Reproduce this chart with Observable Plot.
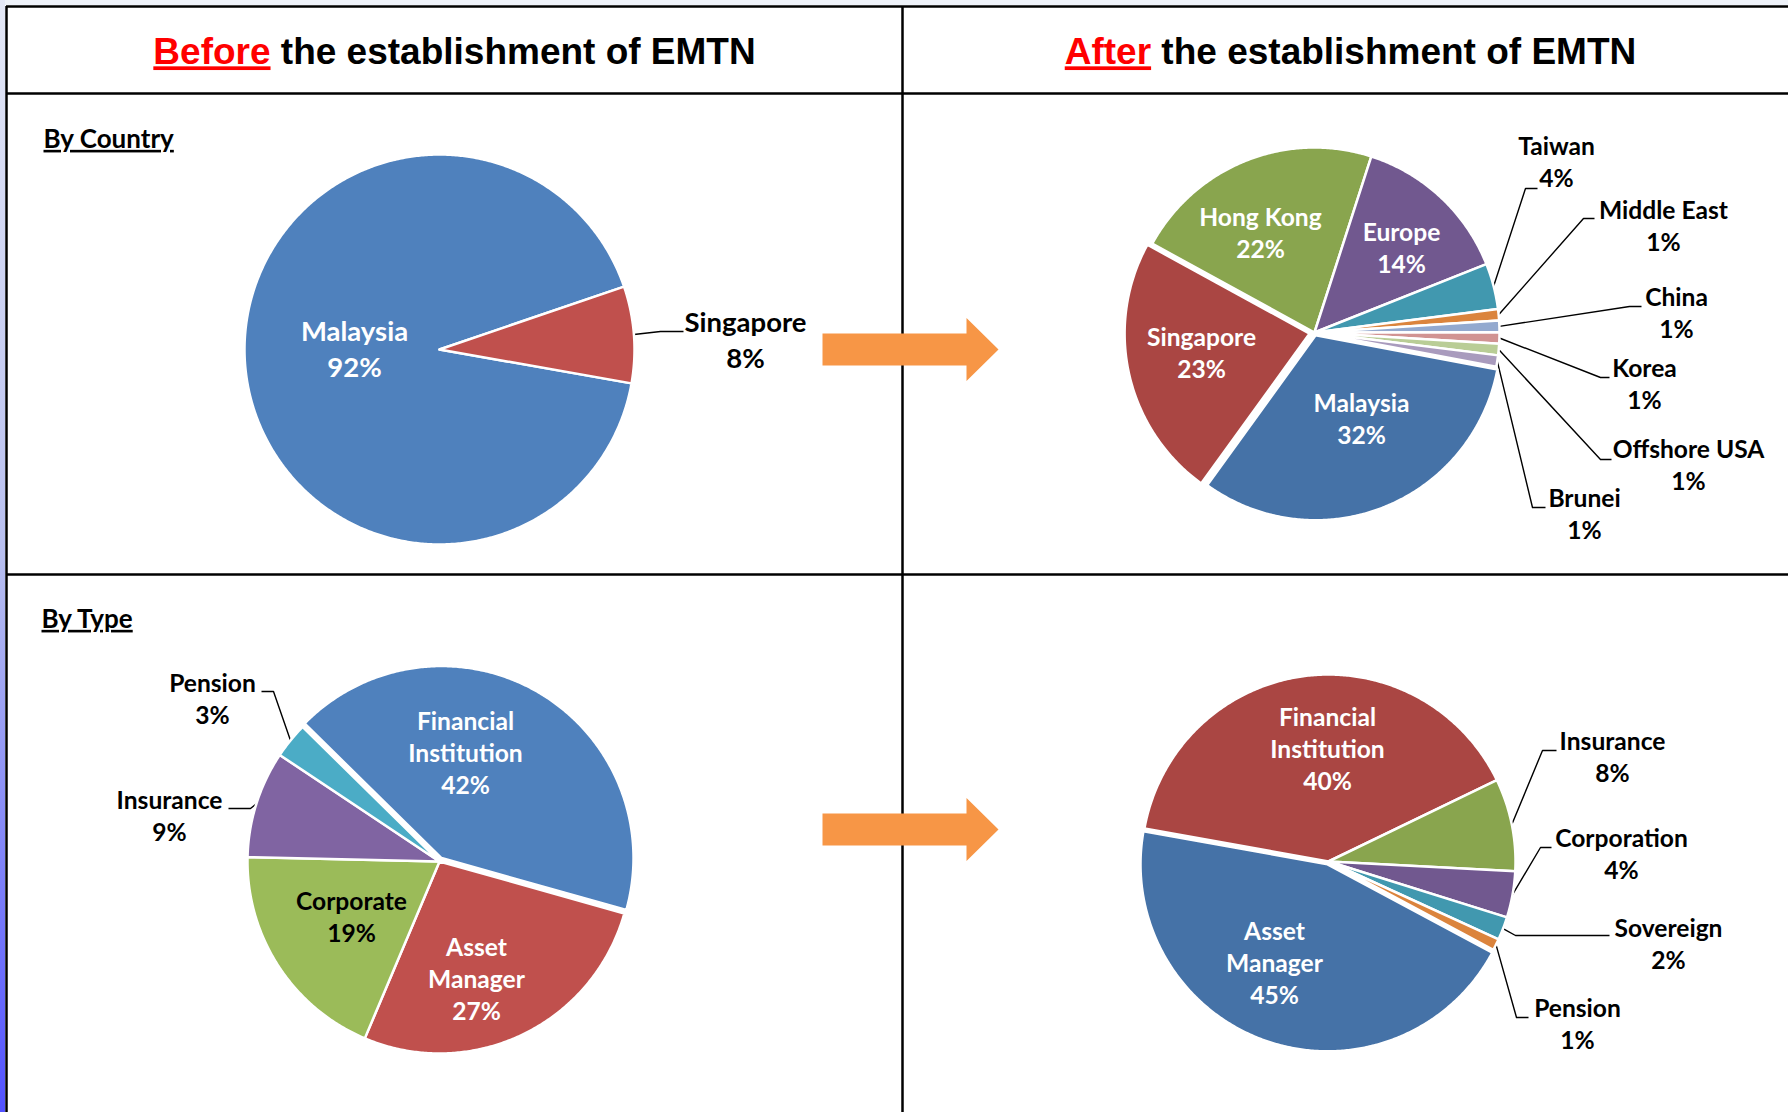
<!DOCTYPE html>
<html><head><meta charset="utf-8">
<script src="https://cdn.jsdelivr.net/npm/d3@7"></script>
<script src="https://cdn.jsdelivr.net/npm/@observablehq/plot@0.6"></script>
<style>html,body{margin:0;padding:0;background:#fff;} #chart svg{display:block}</style>
</head><body><div id="chart"></div>
<script>
// ---------------- DATA ----------------
const panelTitles = ["Before the establishment of EMTN", "After the establishment of EMTN"];
const sectionLabels = ["By Country", "By Type"];

const countryBeforeNames = ["Malaysia", "Singapore"];
const countryBeforeShares = [92, 8];

const countryAfterNames = ["Malaysia", "Singapore", "Hong Kong", "Europe", "Taiwan", "Middle East", "China", "Korea", "Offshore USA", "Brunei"];
const countryAfterShares = [32, 23, 22, 14, 4, 1, 1, 1, 1, 1];

const typeBeforeNames = ["Financial Institution", "Asset Manager", "Corporate", "Insurance", "Pension"];
const typeBeforeShares = [42, 27, 19, 9, 3];

const typeAfterNames = ["Asset Manager", "Financial Institution", "Insurance", "Corporation", "Sovereign", "Pension"];
const typeAfterShares = [45, 40, 8, 4, 2, 1];

// ---------------- STYLE / LAYOUT ----------------
const W = 1788, H = 1112;
const palA = ["#4F81BD", "#C0504D", "#9BBB59", "#8064A2", "#4BACC6", "#F79646"];
const palB = ["#4572A7", "#AA4643", "#89A54E", "#71588F", "#4198AF", "#DB843D", "#93A9CF", "#D19392", "#B9CD96", "#A99BBD"];
const IN = "#ffffff", OUT = "#000000";

const pies = [
  { names: countryBeforeNames, values: countryBeforeShares, colors: palA,
    cx: 439, cy: 349, r: 195, start: 100, fs: 27.5, wrap: false, explode: {},
    lab: {
      "Malaysia": { at: [-85, 1], fill: IN },
      "Singapore": { at: [306, -8], fill: OUT, leader: [[221, -18], [244, -18]] }
    } },
  { names: countryAfterNames, values: countryAfterShares, colors: palB,
    cx: 1314, cy: 332, r: 185, start: 100.7, fs: 24.6, wrap: false,
    explode: { "Singapore": 5, "Malaysia": 3 },
    lab: {
      "Malaysia": { at: [47, 88], fill: IN },
      "Singapore": { at: [-113, 22], fill: IN },
      "Hong Kong": { at: [-54, -98], fill: IN },
      "Europe": { at: [87, -83], fill: IN },
      "Taiwan": { at: [242, -169], fill: OUT, leader: [[211, -144], [223, -144]] },
      "Middle East": { at: [349, -105], fill: OUT, leader: [[269, -114], [280, -114]] },
      "China": { at: [362, -18], fill: OUT, leader: [[315, -26], [327, -26]] },
      "Korea": { at: [330, 53], fill: OUT, leader: [[286, 45], [295, 45]] },
      "Offshore USA": { at: [374, 134], fill: OUT, leader: [[286, 127], [297, 127]] },
      "Brunei": { at: [270, 183], fill: OUT, leader: [[218, 175], [231, 175]] }
    } },
  { names: typeBeforeNames, values: typeBeforeShares, colors: palA,
    cx: 439, cy: 861, r: 192, start: 314.5, fs: 24.6, wrap: true,
    explode: { "Financial Institution": 4 },
    lab: {
      "Financial Institution": { at: [26, -107], fill: IN },
      "Asset Manager": { at: [37, 119], fill: IN },
      "Corporate": { at: [-88, 57], fill: OUT },
      "Insurance": { at: [-270, -44], fill: OUT, leader: [[-189, -53], [-211, -53]] },
      "Pension": { at: [-227, -161], fill: OUT, leader: [[-166, -170], [-178, -170]] }
    } },
  { names: typeAfterNames, values: typeAfterShares, colors: palB,
    cx: 1328, cy: 861, r: 187, start: 118.2, fs: 24.6, wrap: true,
    explode: { "Asset Manager": 3 },
    lab: {
      "Asset Manager": { at: [-54, 103], fill: IN },
      "Financial Institution": { at: [-1, -111], fill: IN },
      "Insurance": { at: [284, -103], fill: OUT, leader: [[214, -111], [228, -111]] },
      "Corporation": { at: [293, -6], fill: OUT, leader: [[212, -14], [223, -14]] },
      "Sovereign": { at: [340, 84], fill: OUT, leader: [[187, 74], [281, 74]] },
      "Pension": { at: [249, 164], fill: OUT, leader: [[188, 156], [200, 156]] }
    } }
];

const gridH = [{ y: 6 }, { y: 93 }, { y: 574 }];
const gridV = [{ x: 6 }, { x: 902 }];
const arrows = [{ cy: 349 }, { cy: 829 }];
const arrowShape = { x0: 822, x1: 966, tip: 998, shaft: 16, head: 31.5 };

// ---------------- GEOMETRY ----------------
const rad = d => d * Math.PI / 180;
const slicePts = [], leaderPts = [], labelRows = [];
pies.forEach((p, pi) => {
  const arcs = d3.pie().sort(null).startAngle(rad(p.start)).endAngle(rad(p.start + 360))(p.values);
  arcs.forEach((a, i) => {
    const name = p.names[i];
    const mid = (a.startAngle + a.endAngle) / 2;
    const ex = p.explode[name] || 0;
    const ox = p.cx + ex * Math.sin(mid), oy = p.cy - ex * Math.cos(mid);
    const key = pi + "-" + i, color = p.colors[i];
    const n = Math.max(2, Math.ceil((a.endAngle - a.startAngle) / rad(0.5)));
    slicePts.push({ key, x: ox, y: oy, color });
    for (let k = 0; k <= n; k++) {
      const t = a.startAngle + (a.endAngle - a.startAngle) * k / n;
      slicePts.push({ key, x: ox + p.r * Math.sin(t), y: oy - p.r * Math.cos(t), color });
    }
    slicePts.push({ key, x: ox, y: oy, color });
    const L = p.lab[name];
    const text = (p.wrap ? name.replace(/ /g, "\n") : name) + "\n" + p.values[i] + "%";
    labelRows.push({ x: p.cx + L.at[0], y: p.cy + L.at[1], text, fill: L.fill, fs: p.fs });
    if (L.leader) {
      leaderPts.push({ key, x: ox + p.r * Math.sin(mid), y: oy - p.r * Math.cos(mid) });
      L.leader.forEach(([dx, dy]) => leaderPts.push({ key, x: p.cx + dx, y: p.cy + dy }));
    }
  });
});

const arrowPts = [];
arrows.forEach((a, i) => {
  const s = arrowShape;
  [[s.x0, -s.shaft], [s.x1, -s.shaft], [s.x1, -s.head], [s.tip, 0], [s.x1, s.head], [s.x1, s.shaft], [s.x0, s.shaft]]
    .forEach(([x, dy]) => arrowPts.push({ key: i, x, y: a.cy + dy }));
});

const titleRows = [{ x: 454, y: 52, text: panelTitles[0] }, { x: 1350, y: 52, text: panelTitles[1] }];
const sectionRows = [{ x: 43, y: 139, text: sectionLabels[0] }, { x: 41, y: 619, text: sectionLabels[1] }];

// ---------------- PLOT ----------------
const svg = Plot.plot({
  width: W, height: H, margin: 0,
  x: { domain: [0, W], range: [0, W], axis: null },
  y: { domain: [0, H], range: [0, H], axis: null },
  color: { type: "identity" },
  style: { background: "#fff" },
  marks: [
    Plot.rect([0], { x1: 0, x2: 5, y1: 0, y2: H, fill: "url(#edge)" }),
    Plot.rect([0], { x1: 5, x2: W, y1: 0, y2: 5, fill: "#eef2f9" }),
    Plot.ruleY(gridH, { y: "y", x1: 6, x2: W, stroke: "#000", strokeWidth: 2.5 }),
    Plot.ruleX(gridV, { x: "x", y1: 6, y2: H, stroke: "#000", strokeWidth: 2.5 }),
    Plot.line(arrowPts, { x: "x", y: "y", z: "key", fill: "#F79646", stroke: "none", curve: "linear" }),
    Plot.line(leaderPts, { x: "x", y: "y", z: "key", stroke: "#000", strokeWidth: 1.4, curve: "linear", strokeLinecap: "butt" }),
    Plot.line(slicePts, { x: "x", y: "y", z: "key", fill: "color", stroke: "#fff", strokeWidth: 2.5, curve: "linear" }),
    Plot.text(labelRows, { x: "x", y: "y", text: "text", fill: "fill", fontSize: "fs", fontFamily: "Lato", fontWeight: "bold", lineHeight: 1.31, dy: -3 }),
    Plot.text(titleRows, { x: "x", y: "y", text: "text", fontSize: 37, fontFamily: "Liberation Sans, Arial", fontWeight: "bold", fill: "#000" }),
    Plot.text(sectionRows, { x: "x", y: "y", text: "text", fontSize: 26, fontFamily: "Lato", fontWeight: "bold", fill: "#000", textAnchor: "start" })
  ]
});

d3.select(svg).insert("defs", ":first-child").html(
  '<linearGradient id="edge" x1="0" y1="0" x2="0" y2="1">' +
  '<stop offset="0" stop-color="#e4e8f6"/><stop offset="0.5" stop-color="#b8bff0"/><stop offset="1" stop-color="#5252ff"/></linearGradient>');

d3.select(svg).selectAll("text").each(function () {
  const t = this.textContent;
  if (sectionLabels.includes(t)) this.setAttribute("text-decoration", "underline");
  if (panelTitles.includes(t)) {
    const [first, ...rest] = t.split(" ");
    this.textContent = "";
    d3.select(this).append("tspan").attr("fill", "#ff0000").attr("text-decoration", "underline").text(first);
    d3.select(this).append("tspan").text(" " + rest.join(" "));
  }
});

document.getElementById("chart").appendChild(svg);
</script>
</body></html>
